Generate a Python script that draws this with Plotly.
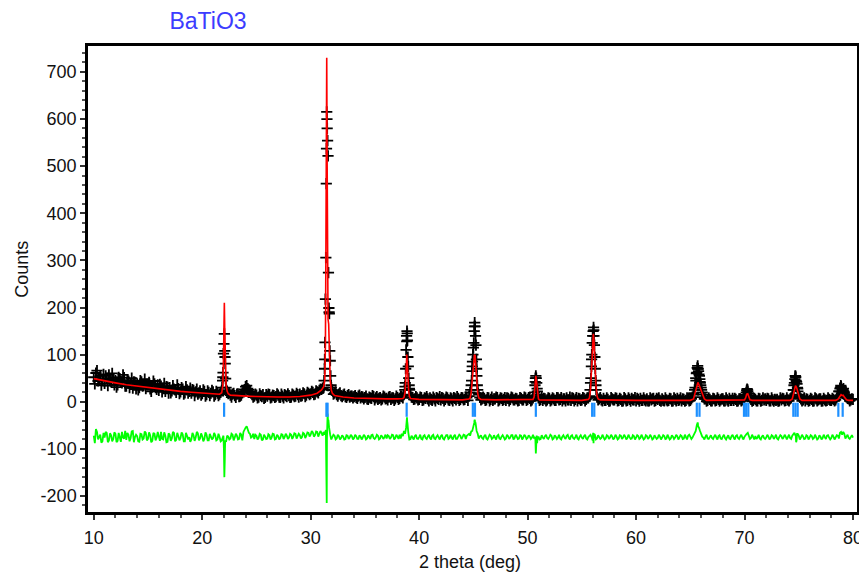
import plotly.graph_objects as go

# BaTiO3 Rietveld plot: observed (+), calculated (red), difference (green), Bragg ticks (blue)

# observed counts on the 0.2 deg scan grid 10.0 .. 80.0 (x.0 x.2 x.4 x.6 x.8 per row)
obs_counts = [
    52, 61, 44, 55, 47,   # 10
    39, 50, 57, 42, 48,   # 11
    45, 36, 49, 40, 51,   # 12
    33, 44, 37, 29, 41,   # 13
    38, 30, 42, 34, 28,   # 14
    35, 27, 31, 38, 26,   # 15
    24, 33, 29, 22, 31,   # 16
    30, 23, 27, 20, 28,   # 17
    21, 27, 19, 25, 22,   # 18
    18, 24, 21, 16, 23,   # 19
    17, 22, 15, 20, 18,   # 20
    21, 15, 18, 16, 24,   # 21
    123, 30, 17, 14, 16,  # 22
    13, 16, 11, 14, 22,   # 23
    32, 28, 21, 15, 12,   # 24
    14, 10, 13, 15, 9,    # 25
    12, 15, 10, 13, 11,   # 26
    14, 9, 12, 15, 11,    # 27
    13, 10, 14, 12, 15,   # 28
    16, 13, 17, 14, 18,   # 29
    17, 20, 16, 21, 24,   # 30
    26, 30, 306, 522, 87, # 31
    24, 18, 15, 16, 13,   # 32
    14, 11, 13, 10, 12,   # 33
    11, 9, 12, 8, 10,     # 34
    9, 6, 10, 7, 11,      # 35
    8, 5, 9, 6, 10,       # 36
    7, 10, 5, 8, 6,       # 37
    9, 7, 11, 15, 110,    # 38
    75, 14, 9, 6, 8,      # 39
    5, 9, 4, 7, 6,        # 40
    8, 3, 6, 9, 5,        # 41
    4, 7, 5, 8, 3,        # 42
    6, 9, 4, 7, 5,        # 43
    8, 5, 9, 12, 35,      # 44
    115, 140, 25, 9, 6,   # 45
    7, 4, 8, 5, 3,        # 46
    6, 9, 4, 7, 5,        # 47
    3, 7, 5, 8, 4,        # 48
    6, 3, 7, 4, 8,        # 49
    5, 7, 4, 12, 50,      # 50
    8, 5, 3, 6, 4,        # 51
    7, 4, 6, 3, 8,        # 52
    5, 2, 6, 8, 4,        # 53
    3, 7, 5, 2, 6,        # 54
    4, 7, 5, 8, 40,       # 55
    140, 95, 10, 6, 4,    # 56
    7, 3, 5, 2, 6,        # 57
    4, 7, 3, 5, 2,        # 58
    6, 3, 5, 7, 4,        # 59
    2, 5, 7, 3, 4,        # 60
    6, 2, 4, 7, 3,        # 61
    5, 3, 6, 2, 4,        # 62
    3, 6, 2, 5, 7,        # 63
    4, 2, 5, 3, 6,        # 64
    3, 10, 25, 62, 58,    # 65
    30, 10, 6, 3, 5,      # 66
    2, 6, 3, 5, 4,        # 67
    6, 2, 4, 7, 3,        # 68
    3, 5, 2, 6, 4,        # 69
    8, 24, 14, 5, 3,      # 70
    5, 2, 6, 3, 4,        # 71
    3, 6, 2, 4, 5,        # 72
    5, 2, 4, 6, 3,        # 73
    4, 6, 12, 40, 42,     # 74
    15, 6, 4, 2, 5,       # 75
    3, 5, 2, 6, 4,        # 76
    6, 2, 4, 3, 5,        # 77
    3, 5, 4, 12, 28,      # 78
    26, 20, 10, 6, 4,     # 79
    5,                    # 80
]

# observed counts in between, 10.1 .. 79.9 (x.1 x.3 x.5 x.7 x.9 per row)
obs_counts_mid = [
    38, 66, 47, 35, 58,   # 10
    55, 34, 45, 60, 36,   # 11
    31, 52, 43, 57, 33,   # 12
    46, 30, 50, 42, 27,   # 13
    25, 45, 33, 48, 37,   # 14
    41, 22, 44, 30, 36,   # 15
    37, 21, 39, 32, 18,   # 16
    19, 34, 25, 36, 17,   # 17
    30, 16, 32, 18, 29,   # 18
    26, 13, 27, 19, 14,   # 19
    25, 12, 23, 13, 24,   # 20
    12, 22, 13, 20, 52,   # 21
    95, 22, 19, 10, 18,   # 22
    9, 17, 12, 19, 26,    # 23
    34, 25, 18, 10, 16,   # 24
    8, 17, 11, 7, 15,     # 25
    16, 8, 14, 9, 17,     # 26
    10, 16, 8, 13, 17,    # 27
    9, 16, 11, 18, 10,    # 28
    12, 19, 11, 20, 15,   # 29
    22, 15, 23, 19, 27,   # 30
    29, 90, 600, 190, 30, # 31
    16, 21, 12, 19, 11,   # 32
    16, 9, 15, 12, 8,     # 33
    13, 7, 14, 11, 6,     # 34
    12, 5, 8, 13, 4,      # 35
    11, 7, 4, 12, 6,      # 36
    4, 11, 8, 3, 12,      # 37
    5, 12, 8, 32, 145,    # 38
    28, 10, 5, 11, 4,     # 39
    10, 3, 8, 11, 2,      # 40
    5, 10, 2, 7, 11,      # 41
    9, 2, 10, 4, 8,       # 42
    2, 7, 11, 3, 9,       # 43
    4, 10, 3, 20, 75,     # 44
    160, 70, 15, 4, 10,   # 45
    3, 9, 2, 10, 6,       # 46
    10, 2, 8, 3, 9,       # 47
    8, 2, 10, 4, 7,       # 48
    2, 9, 4, 10, 3,       # 49
    9, 2, 8, 42, 22,      # 50
    3, 9, 7, 2, 8,        # 51
    2, 8, 3, 9, 4,        # 52
    9, 6, 2, 4, 10,       # 53
    8, 2, 9, 7, 3,        # 54
    9, 2, 8, 12, 90,      # 55
    152, 35, 4, 9, 2,     # 56
    3, 8, 1, 9, 4,        # 57
    8, 2, 7, 1, 9,        # 58
    2, 8, 1, 4, 9,        # 59
    7, 1, 3, 8, 2,        # 60
    2, 8, 6, 1, 7,        # 61
    8, 1, 3, 8, 2,        # 62
    7, 1, 8, 2, 3,        # 63
    8, 6, 1, 8, 2,        # 64
    6, 15, 50, 70, 42,    # 65
    20, 6, 1, 8, 2,       # 66
    7, 2, 8, 1, 6,        # 67
    2, 8, 1, 3, 7,        # 68
    7, 1, 6, 2, 8,        # 69
    15, 22, 8, 1, 7,      # 70
    2, 7, 1, 8, 6,        # 71
    7, 2, 8, 1, 3,        # 72
    1, 8, 7, 2, 8,        # 73
    2, 8, 25, 54, 28,     # 74
    9, 2, 8, 6, 1,        # 75
    7, 1, 8, 2, 6,        # 76
    1, 7, 2, 8, 3,        # 77
    7, 2, 8, 22, 32,      # 78
    24, 14, 7, 2, 6,      # 79
]

# extra finely stepped observed points across the Bragg peaks
peak_x = [
    21.84, 21.88, 21.92, 21.96, 22.04, 22.08, 22.12, 22.16, 22.24,
    31.24, 31.28, 31.32, 31.36, 31.44, 31.46, 31.48, 31.52, 31.56, 31.64,
    31.68, 31.72, 31.76, 31.84, 31.88, 31.92,
    38.68, 38.72, 38.76, 38.84, 38.86, 38.88, 38.92, 38.96, 39.04, 39.08, 39.12,
    44.76, 44.84, 44.88, 44.92, 44.96, 45.04, 45.08, 45.12, 45.16, 45.24, 45.28,
    45.32, 45.36, 45.44,
    50.64, 50.68, 50.72, 50.76, 50.84, 50.88, 50.92,
    55.76, 55.84, 55.88, 55.92, 55.96, 56.04, 56.08, 56.12, 56.16, 56.24, 56.28,
    56.32,
    65.32, 65.44, 65.52, 65.56, 65.64, 65.68, 65.72, 65.76, 65.84, 65.88, 65.92,
    65.96, 66.04, 66.12,
    70.08, 70.16, 70.24, 70.28, 70.36,
    74.52, 74.56, 74.64, 74.68, 74.72, 74.76, 74.84, 74.88, 74.92, 75.04,
    78.72, 78.84, 78.88, 78.92, 79.04, 79.12, 79.16, 79.24, 79.32,
]
peak_counts = [
    30, 45, 62, 102, 144, 108, 81, 49, 24,
    45, 70, 126, 218, 463, 537, 615, 580, 554, 274,
    199, 187, 108, 55, 35, 25,
    25, 40, 70, 140, 128, 150, 130, 95, 50, 35, 25,
    25, 45, 65, 85, 100, 125, 150, 168, 160, 120, 90,
    55, 35, 18,
    20, 35, 50, 55, 40, 28, 15,
    25, 50, 75, 100, 125, 150, 158, 140, 120, 70, 45,
    25,
    18, 30, 45, 60, 72, 76, 70, 65, 55, 48, 40,
    35, 25, 15,
    12, 20, 27, 25, 18,
    25, 35, 48, 55, 52, 45, 38, 30, 22, 12,
    22, 30, 34, 30, 25, 28, 22, 16, 12,
]

# calculated profile
calc_x = [
    10, 11, 12, 13, 14, 15, 16, 17, 18, 19, 20, 21, 21.6, 21.8, 21.9, 21.96, 22.0,
    22.04, 22.08, 22.12, 22.2, 22.3, 22.4, 22.6, 23, 24, 25, 26, 27, 28, 29, 30,
    30.6, 31.0, 31.2, 31.3, 31.36, 31.4, 31.44, 31.48, 31.52, 31.56, 31.6, 31.66,
    31.72, 31.8, 31.9, 32.0, 32.2, 33, 34, 35, 36, 37, 38, 38.5, 38.6, 38.7, 38.76,
    38.82, 38.86, 38.9, 38.96, 39.04, 39.1, 39.2, 40, 42, 44, 44.6, 44.7, 44.8,
    44.9, 45.0, 45.1, 45.16, 45.24, 45.3, 45.4, 45.5, 45.7, 47, 49, 50.4, 50.5,
    50.6, 50.68, 50.76, 50.84, 50.92, 51.0, 51.1, 53, 55, 55.6, 55.7, 55.8, 55.9,
    56.0, 56.06, 56.12, 56.2, 56.3, 56.4, 56.5, 56.7, 58, 60, 62, 64, 65.0, 65.3,
    65.5, 65.6, 65.7, 65.8, 65.9, 66.0, 66.1, 66.3, 66.5, 68, 69.8, 70.0, 70.1,
    70.2, 70.3, 70.4, 70.5, 70.7, 72, 74.2, 74.4, 74.5, 74.6, 74.7, 74.8, 74.9,
    75.0, 75.1, 75.3, 77, 78.4, 78.6, 78.8, 78.9, 79.0, 79.1, 79.2, 79.4, 79.6, 80,
]
calc_counts = [
    49, 44, 40, 36, 33, 30, 27, 25, 22, 20, 18, 16, 16, 19, 35, 90, 190,
    210, 150, 70, 35, 22, 17, 14, 13, 12, 11, 10, 10, 10, 11, 14,
    18, 25, 32, 45, 120, 300, 675, 730, 500, 260, 175, 165,
    100, 45, 25, 18, 13, 10, 8, 7, 7, 6, 6, 7, 9, 20, 45,
    90, 100, 85, 50, 22, 12, 7, 5, 5, 4, 6, 8, 20,
    50, 80, 100, 98, 70, 40, 18, 8, 5, 4, 4, 4, 5,
    10, 35, 55, 40, 15, 6, 4, 3, 3, 5, 8, 25, 75,
    130, 144, 130, 85, 35, 12, 6, 4, 3, 3, 3, 3, 3, 6,
    25, 38, 41, 36, 30, 25, 15, 6, 3, 3, 3, 4, 8,
    16, 17, 10, 4, 3, 3, 3, 6, 15, 28, 34, 30, 20,
    12, 6, 3, 3, 3, 5, 12, 15, 13, 14, 10, 4, 3, 3,
]

# difference curve (shifted down), same two grids as the observed counts
diff_counts = [
    -72, -58, -80, -70, -84,   # 10
    -76, -66, -82, -71, -79,   # 11
    -68, -83, -74, -64, -78,   # 12
    -81, -70, -77, -62, -75,   # 13
    -73, -85, -69, -78, -66,   # 14
    -79, -71, -83, -68, -76,   # 15
    -74, -64, -80, -72, -85,   # 16
    -70, -78, -66, -81, -73,   # 17
    -77, -69, -84, -72, -75,   # 18
    -80, -71, -76, -67, -78,   # 19
    -73, -79, -70, -82, -74,   # 20
    -77, -71, -80, -75, -82,   # 21
    -100, -85, -74, -78, -70,  # 22
    -76, -72, -79, -70, -64,   # 23
    -55, -60, -68, -74, -79,   # 24
    -72, -77, -70, -80, -74,   # 25
    -78, -71, -76, -69, -79,   # 26
    -73, -77, -70, -75, -72,   # 27
    -76, -70, -74, -68, -73,   # 28
    -71, -75, -68, -72, -66,   # 29
    -70, -65, -71, -64, -68,   # 30
    -66, -64, -60, -40, -70,   # 31
    -76, -72, -78, -73, -77,   # 32
    -74, -79, -72, -76, -73,   # 33
    -77, -73, -79, -74, -76,   # 34
    -73, -78, -75, -71, -77,   # 35
    -76, -72, -78, -74, -75,   # 36
    -78, -73, -76, -71, -77,   # 37
    -74, -70, -68, -62, -55,   # 38
    -65, -79, -76, -73, -78,   # 39
    -75, -79, -73, -77, -74,   # 40
    -77, -72, -78, -74, -76,   # 41
    -73, -78, -75, -71, -77,   # 42
    -76, -73, -79, -74, -72,   # 43
    -75, -71, -72, -68, -63,   # 44
    -55, -45, -68, -74, -77,   # 45
    -73, -78, -75, -72, -77,   # 46
    -76, -72, -78, -74, -75,   # 47
    -78, -73, -76, -71, -77,   # 48
    -74, -78, -72, -76, -73,   # 49
    -77, -74, -76, -78, -90,   # 50
    -74, -79, -76, -73, -77,   # 51
    -75, -72, -78, -74, -76,   # 52
    -78, -74, -76, -72, -77,   # 53
    -73, -77, -75, -78, -74,   # 54
    -76, -73, -78, -75, -70,   # 55
    -82, -70, -78, -74, -77,   # 56
    -75, -78, -73, -76, -74,   # 57
    -77, -74, -78, -72, -76,   # 58
    -74, -77, -75, -78, -73,   # 59
    -76, -73, -77, -75, -78,   # 60
    -73, -76, -74, -78, -75,   # 61
    -77, -74, -76, -73, -78,   # 62
    -75, -78, -74, -76, -73,   # 63
    -76, -73, -78, -75, -72,   # 64
    -74, -76, -66, -50, -55,   # 65
    -70, -76, -74, -78, -75,   # 66
    -77, -74, -76, -73, -78,   # 67
    -74, -77, -75, -78, -73,   # 68
    -76, -73, -77, -74, -76,   # 69
    -74, -68, -72, -77, -75,   # 70
    -73, -76, -78, -74, -77,   # 71
    -76, -74, -77, -73, -75,   # 72
    -78, -75, -73, -76, -74,   # 73
    -75, -77, -72, -66, -82,   # 74
    -72, -76, -74, -78, -73,   # 75
    -76, -73, -77, -75, -78,   # 76
    -74, -77, -75, -72, -76,   # 77
    -77, -74, -76, -72, -66,   # 78
    -70, -68, -74, -77, -75,   # 79
    -76,                       # 80
]
diff_counts_mid = [
    -88, -64, -74, -87, -66,   # 10
    -64, -86, -67, -84, -65,   # 11
    -86, -66, -85, -76, -62,   # 12
    -66, -84, -63, -86, -70,   # 13
    -84, -68, -80, -63, -82,   # 14
    -65, -86, -66, -82, -64,   # 15
    -83, -79, -65, -86, -67,   # 16
    -83, -64, -84, -66, -82,   # 17
    -65, -84, -66, -80, -85,   # 18
    -66, -83, -64, -82, -67,   # 19
    -84, -65, -82, -68, -80,   # 20
    -66, -82, -68, -84, -76,   # 21
    -100, -72, -80, -68, -82,  # 22
    -68, -80, -66, -82, -58,   # 23
    -52, -66, -76, -68, -70,   # 24
    -80, -68, -82, -70, -79,   # 25
    -69, -80, -68, -80, -70,   # 26
    -80, -69, -79, -68, -79,   # 27
    -68, -79, -67, -78, -68,   # 28
    -78, -66, -77, -65, -74,   # 29
    -62, -74, -63, -74, -62,   # 30
    -72, -70, -80, -55, -80,   # 31
    -70, -80, -70, -80, -71,   # 32
    -80, -71, -79, -70, -80,   # 33
    -70, -79, -71, -80, -70,   # 34
    -80, -71, -79, -70, -79,   # 35
    -70, -80, -71, -79, -70,   # 36
    -71, -79, -70, -80, -70,   # 37
    -79, -78, -73, -68, -42,   # 38
    -80, -72, -80, -70, -79,   # 39
    -70, -80, -71, -79, -70,   # 40
    -80, -70, -79, -71, -80,   # 41
    -70, -80, -71, -79, -70,   # 42
    -80, -70, -79, -70, -79,   # 43
    -70, -79, -70, -72, -62,   # 44
    -40, -62, -78, -71, -79,   # 45
    -70, -80, -70, -79, -71,   # 46
    -80, -70, -79, -71, -80,   # 47
    -70, -79, -71, -80, -70,   # 48
    -79, -71, -80, -70, -79,   # 49
    -71, -79, -70, -75, -80,   # 50
    -80, -71, -79, -70, -79,   # 51
    -70, -80, -71, -79, -70,   # 52
    -80, -71, -79, -70, -80,   # 53
    -71, -79, -70, -80, -71,   # 54
    -79, -70, -80, -71, -75,   # 55
    -70, -80, -71, -79, -70,   # 56
    -80, -71, -79, -70, -80,   # 57
    -70, -80, -71, -79, -70,   # 58
    -80, -70, -79, -71, -80,   # 59
    -71, -79, -70, -80, -71,   # 60
    -79, -70, -80, -71, -79,   # 61
    -70, -80, -71, -79, -70,   # 62
    -80, -71, -79, -70, -80,   # 63
    -71, -79, -70, -80, -70,   # 64
    -79, -70, -62, -46, -62,   # 65
    -74, -80, -70, -79, -71,   # 66
    -79, -70, -80, -71, -79,   # 67
    -70, -80, -71, -79, -70,   # 68
    -80, -71, -79, -70, -80,   # 69
    -70, -66, -79, -70, -80,   # 70
    -79, -70, -80, -71, -79,   # 71
    -70, -80, -71, -79, -70,   # 72
    -80, -71, -79, -70, -80,   # 73
    -70, -79, -70, -72, -68,   # 74
    -80, -70, -79, -71, -80,   # 75
    -71, -79, -70, -80, -71,   # 76
    -80, -70, -79, -71, -80,   # 77
    -70, -80, -71, -78, -64,   # 78
    -64, -78, -70, -79, -71,   # 79
]
diff_peak_x = [
    21.96, 22.04, 22.08, 22.12, 31.44, 31.48, 31.52, 31.56, 31.64, 31.72,
    38.84, 38.88, 38.92, 38.96, 45.08, 45.12, 45.16, 45.28, 50.72, 50.76, 50.84,
    50.88, 56.04, 56.08, 56.12, 65.68, 65.72, 74.72, 74.76, 74.84,
]
diff_peak_counts = [
    -72, -160, -125, -82, -150, -215, -30, -25, -40, -62,
    -40, -33, -45, -60, -45, -38, -42, -58, -82, -110, -72,
    -88, -66, -88, -68, -44, -52, -70, -86, -68,
]

# Bragg reflection positions
bragg_pos = [
    22.02, 31.45, 31.56, 38.85, 44.95, 45.15, 50.76, 55.95, 56.15,
    65.6, 65.85, 69.95, 70.15, 70.35, 74.5, 74.7, 74.9, 78.65, 79.05,
]

y_ticks = [-200, -100, 0, 100, 200, 300, 400, 500, 600, 700]
x_ticks = [10, 20, 30, 40, 50, 60, 70, 80]

# scan grids: 0.2 deg steps from 10.0 and from 10.1
grid = [round(10.0 + 0.2 * i, 2) for i in range(len(obs_counts))]
grid_mid = [round(10.1 + 0.2 * i, 2) for i in range(len(obs_counts_mid))]

obs = sorted(zip(grid + grid_mid + peak_x, obs_counts + obs_counts_mid + peak_counts))
obs_x = [p[0] for p in obs]
obs_y = [p[1] for p in obs]

diff = sorted(zip(grid + grid_mid + diff_peak_x, diff_counts + diff_counts_mid + diff_peak_counts))
diff_x = [p[0] for p in diff]
diff_y = [p[1] for p in diff]

tick_x, tick_y = [], []
for p in bragg_pos:
    tick_x += [p, p, None]
    tick_y += [-2, -32, None]

fig = go.Figure()
fig.add_trace(go.Scatter(
    x=obs_x, y=obs_y, mode="markers", name="obs",
    marker=dict(symbol="cross-thin", size=8, line=dict(width=1.8, color="black")),
))
fig.add_trace(go.Scatter(x=calc_x, y=calc_counts, mode="lines", name="calc",
                         line=dict(color="#ff0000", width=1.6)))
fig.add_trace(go.Scatter(x=diff_x, y=diff_y, mode="lines", name="diff",
                         line=dict(color="#00ff00", width=1.8)))
fig.add_trace(go.Scatter(x=tick_x, y=tick_y, mode="lines", name="hkl",
                         line=dict(color="#1e90ff", width=2.2)))

axis_font = dict(family="Liberation Sans, Arial, sans-serif", size=18, color="#111111")

fig.update_xaxes(
    range=[9.47, 80.37], tickvals=x_ticks, ticktext=[str(v) for v in x_ticks],
    ticks="outside", ticklen=5, tickwidth=1.5, tickcolor="#333", ticklabelstandoff=3,
    minor=dict(dtick=2, tick0=0, ticks="outside", ticklen=3, tickcolor="#555"),
    showline=True, linewidth=2.5, linecolor="black", mirror=True,
    showgrid=False, zeroline=False, tickfont=axis_font,
)
fig.update_yaxes(
    range=[-234, 755], tickvals=y_ticks, ticktext=[str(v) for v in y_ticks],
    ticks="outside", ticklen=5, tickwidth=1.5, tickcolor="#333",
    minor=dict(dtick=20, tick0=0, ticks="outside", ticklen=3, tickcolor="#555"),
    showline=True, linewidth=2.5, linecolor="black", mirror=True,
    showgrid=False, zeroline=False, tickfont=axis_font,
)

# the page body adds an 8 px offset, so margins are shifted by that amount
fig.update_layout(
    width=867, height=573,
    margin=dict(l=80, r=16, t=38, b=69),
    paper_bgcolor="white", plot_bgcolor="white",
    showlegend=False,
    title=dict(text="BaTiO3", x=200 / 867, xanchor="center", y=1 - 13 / 573, yanchor="middle",
               font=dict(family="Liberation Sans, Arial, sans-serif", size=23, color="#3c3cff")),
    annotations=[
        dict(text="Counts", xref="paper", yref="paper", x=-0.0856, y=0.52,
             xanchor="center", yanchor="middle",
             textangle=-90, showarrow=False, font=axis_font),
        dict(text="2 theta (deg)", xref="paper", yref="paper", x=0.497, y=-0.107,
             xanchor="center", yanchor="middle",
             showarrow=False, font=axis_font),
    ],
)

fig.write_html("out.html")
